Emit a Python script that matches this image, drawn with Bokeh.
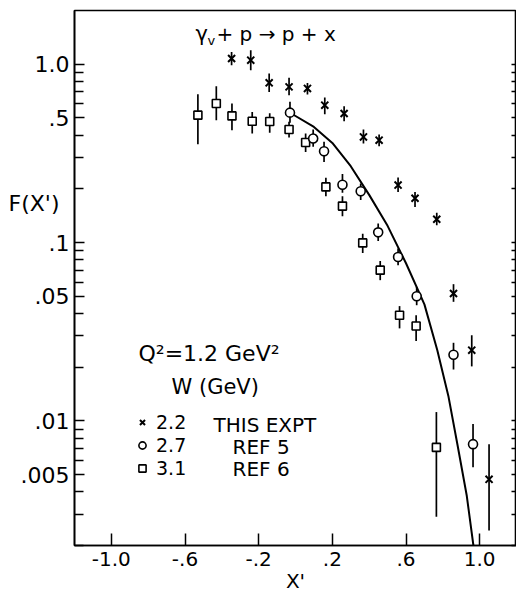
import math
from bokeh.plotting import figure
from bokeh.models import FixedTicker, LogAxis, Label, Legend, LegendItem, ColumnDataSource
from bokeh.embed import file_html
from bokeh.resources import INLINE

# ---------------- data ----------------
# W = 2.2 GeV, this experiment (asterisks)
X_EXPT = [-0.347, -0.243, -0.143, -0.035, 0.065, 0.159, 0.264, 0.369, 0.454,
          0.557, 0.649, 0.767, 0.858, 0.957, 1.051]
F_EXPT = [1.076, 1.053, 0.786, 0.746, 0.731, 0.589, 0.529, 0.391, 0.375,
          0.210, 0.177, 0.135, 0.0518, 0.0249, 0.0047]
LO_EXPT = [0.987, 0.925, 0.699, 0.670, 0.676, 0.524, 0.479, 0.359, 0.347,
           0.192, 0.158, 0.125, 0.0465, 0.0202, 0.00243]
HI_EXPT = [1.172, 1.198, 0.887, 0.838, 0.785, 0.650, 0.581, 0.430, 0.403,
           0.2315, 0.192, 0.147, 0.0584, 0.0302, 0.0074]

# W = 2.7 GeV, ref 5 (circles)
X_REF5 = [-0.030, 0.096, 0.155, 0.255, 0.354, 0.449, 0.557, 0.658, 0.858, 0.964]
F_REF5 = [0.535, 0.383, 0.325, 0.211, 0.194, 0.114, 0.083, 0.050, 0.0235, 0.0074]
LO_REF5 = [0.470, 0.344, 0.283, 0.190, 0.173, 0.102, 0.0746, 0.0445, 0.0194, 0.0055]
HI_REF5 = [0.615, 0.430, 0.367, 0.242, 0.214, 0.128, 0.0925, 0.0564, 0.0274, 0.0096]

# W = 3.1 GeV, ref 6 (squares)
X_REF6 = [-0.530, -0.430, -0.345, -0.235, -0.140, -0.035, 0.055, 0.165, 0.255,
          0.365, 0.460, 0.565, 0.655, 0.765]
F_REF6 = [0.518, 0.602, 0.513, 0.479, 0.477, 0.430, 0.364, 0.205, 0.160,
          0.0995, 0.070, 0.0391, 0.034, 0.0071]
LO_REF6 = [0.356, 0.485, 0.426, 0.409, 0.412, 0.388, 0.322, 0.182, 0.1405,
           0.0874, 0.0615, 0.033, 0.028, 0.0029]
HI_REF6 = [0.679, 0.752, 0.602, 0.540, 0.530, 0.475, 0.409, 0.231, 0.182,
           0.112, 0.0788, 0.044, 0.0391, 0.0112]

# solid curve
CURVE_X = [-0.016, 0.10, 0.20, 0.30, 0.40, 0.50, 0.60, 0.70, 0.77,
           0.83, 0.88, 0.93, 0.966]
CURVE_F = [0.524, 0.445, 0.362, 0.268, 0.185, 0.124, 0.0765, 0.045, 0.0249,
           0.0138, 0.0073, 0.0038, 0.0020]

# axes
X_TICKS = [-1.0, -0.6, -0.2, 0.2, 0.6, 1.0]
X_TICK_LABELS = ["-1.0", "-.6", "-.2", ".2", ".6", "1.0"]
Y_TICKS = [0.005, 0.01, 0.05, 0.1, 0.5, 1.0]
Y_TICK_LABELS = [".005", ".01", ".05", ".1", ".5", "1.0"]
Y_MINOR = [0.002, 0.003, 0.004, 0.006, 0.007, 0.008, 0.009,
           0.02, 0.03, 0.04, 0.06, 0.07, 0.08, 0.09,
           0.2, 0.3, 0.4, 0.6, 0.7, 0.8, 0.9]
X_START, X_END = -1.2, 1.2
Y_START, Y_END = 0.002, 2.0

LEGEND_W = ["2.2", "2.7", "3.1"]
LEGEND_REF = ["THIS EXPT", "REF 5", "REF 6"]

FONT = "DejaVu Sans"

# ---------------- figure ----------------
p = figure(width=516, height=597, x_range=(X_START, X_END), y_range=(Y_START, Y_END),
           y_axis_type="log", output_backend="svg", toolbar_location=None,
           min_border_left=74, min_border_right=0, min_border_top=10, min_border_bottom=52,
           background_fill_color="white", border_fill_color="white")
p.xgrid.visible = False
p.ygrid.visible = False
p.outline_line_color = "black"
p.outline_line_width = 1.6

xax = p.xaxis[0]
xax.ticker = FixedTicker(ticks=X_TICKS)
xax.major_label_overrides = dict(zip(X_TICKS, X_TICK_LABELS))
xax.major_tick_in = 12
xax.major_tick_out = 0
xax.minor_tick_line_color = None
xax.major_tick_line_width = 1.5
xax.axis_line_width = 1.6
xax.major_label_standoff = 6
xax.major_label_text_font = FONT
xax.major_label_text_font_size = "20px"
xax.major_label_text_color = "black"
xax.axis_label = "X'"
xax.axis_label_standoff = 0
xax.axis_label_text_font = FONT
xax.axis_label_text_font_size = "20px"
xax.axis_label_text_font_style = "normal"
xax.axis_label_text_color = "black"

yax = p.yaxis[0]
yax.ticker = FixedTicker(ticks=Y_TICKS, minor_ticks=Y_MINOR)
yax.major_label_overrides = dict(zip(Y_TICKS, Y_TICK_LABELS))
yax.major_tick_in = 10
yax.major_tick_out = 0
yax.minor_tick_in = 9
yax.minor_tick_out = 0
yax.major_tick_line_width = 1.5
yax.minor_tick_line_width = 1.5
yax.minor_tick_line_color = "black"
yax.axis_line_width = 1.6
yax.major_label_standoff = 5
yax.major_label_text_font = FONT
yax.major_label_text_font_size = "22px"
yax.major_label_text_color = "black"
# horizontal axis title, pulled over the tick-label column (blank lines lift it)
yax.axis_label = "F(X')" + "\n " * 5
yax.axis_label_orientation = "horizontal"
yax.axis_label_standoff = -42
yax.axis_label_text_font = FONT
yax.axis_label_text_font_size = "22px"
yax.axis_label_text_font_style = "normal"
yax.axis_label_text_color = "black"

rax = LogAxis(ticker=FixedTicker(ticks=Y_TICKS, minor_ticks=Y_MINOR),
              major_label_overrides={t: "" for t in Y_TICKS},
              major_tick_in=5, major_tick_out=0, minor_tick_in=5, minor_tick_out=0,
              major_tick_line_width=1.5, minor_tick_line_width=1.5,
              major_label_standoff=0, major_label_text_font_size="1px",
              axis_line_width=1.6)
p.add_layout(rax, "right")

# ---------------- glyphs ----------------
p.line(CURVE_X, CURVE_F, line_color="black", line_width=2)

src6 = ColumnDataSource(dict(x=X_REF6, y=F_REF6, lo=LO_REF6, hi=HI_REF6))
src5 = ColumnDataSource(dict(x=X_REF5, y=F_REF5, lo=LO_REF5, hi=HI_REF5))
srce = ColumnDataSource(dict(x=X_EXPT, y=F_EXPT, lo=LO_EXPT, hi=HI_EXPT))

for src in (src6, src5, srce):
    p.segment(x0="x", y0="lo", x1="x", y1="hi", source=src, line_color="black", line_width=1.7)

r6 = p.scatter("x", "y", source=src6, marker="square", size=8, fill_color="white",
               line_color="black", line_width=1.6)
r5 = p.scatter("x", "y", source=src5, marker="circle", size=9, fill_color="white",
               line_color="black", line_width=1.6)
re_ = p.scatter("x", "y", source=srce, marker="x", size=10, line_color="black", line_width=2)

# ---------------- legend ----------------
legend = Legend(items=[LegendItem(label=LEGEND_W[0], renderers=[re_]),
                       LegendItem(label=LEGEND_W[1], renderers=[r5]),
                       LegendItem(label=LEGEND_W[2], renderers=[r6])],
                location=(59, 66), padding=0, margin=0, spacing=1,
                glyph_width=18, glyph_height=18, label_height=20, label_standoff=5,
                label_text_font=FONT, label_text_font_size="19px", label_text_color="black",
                background_fill_alpha=0, border_line_alpha=0)
p.add_layout(legend)

# ---------------- texts ----------------
FL, FT, FR, FB = 74, 10, 516, 545   # frame position in the page picture


def dx(px):
    return X_START + (px - FL) * (X_END - X_START) / (FR - FL)


def dy(py):
    l0, l1 = math.log10(Y_START), math.log10(Y_END)
    return 10 ** (l1 - (py - FT) * (l1 - l0) / (FB - FT))


def txt(s, px, py, size, baseline="alphabetic"):
    p.add_layout(Label(x=dx(px), y=dy(py), text=s, text_font=FONT, text_font_size=size,
                       text_color="black", text_align="left", text_baseline=baseline))


txt("γ", 195, 33, "21px")
txt("v", 207, 40, "13px")
txt("+ p → p + x", 216, 33, "20px")
txt("Q²=1.2 GeV²", 138, 353, "22px")
txt("W (GeV)", 171, 386, "21px")
txt(LEGEND_REF[0], 213, 424, "20px", "middle")
txt(LEGEND_REF[1], 232, 446, "20px", "middle")
txt(LEGEND_REF[2], 232, 468, "20px", "middle")

open("out.html", "w").write(file_html(p, INLINE))
